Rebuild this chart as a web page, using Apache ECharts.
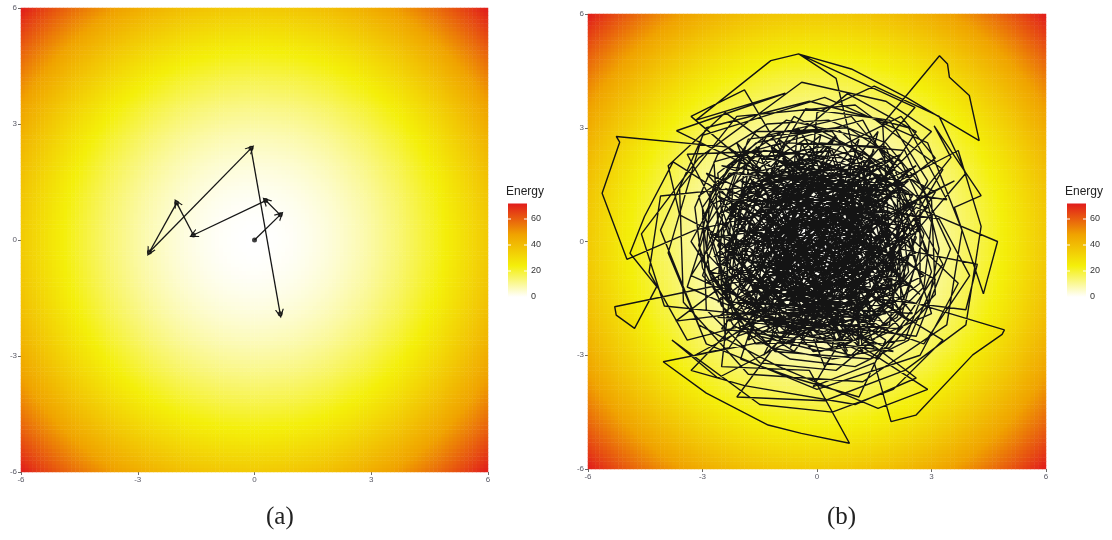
<!DOCTYPE html>
<html lang="en">
<head>
    <meta charset="UTF-8">
    <title>Energy</title>
    <script src="https://cdn.jsdelivr.net/npm/echarts@6/dist/echarts.min.js"></script>
    <style>
        body { margin: 0; background: #fff; }
    </style>
</head>
<body>
<div id="main" style="width: 1112px; height: 540px;"></div>
<script>
    // ---- data ----
    var axisTicks = [-6, -3, 0, 3, 6];
    var legendTicks = [0, 20, 40, 60];
    var energyMax = 72;
    var cellsPerSide = 120;

    // energy surface that is shaded in both panels: U(x, y) = x^2 + y^2
    function energyAt(x, y) { return x * x + y * y; }

    // panel (a): short path with arrows
    var pathA = [[0, 0], [0.66, 0.65], [0.29, 1.02], [-1.57, 0.13], [-2.0, 0.96],
        [-2.7, -0.31], [-0.09, 2.37], [0.66, -1.91]];

    // panel (b): long path
    var walkB = [
        [0, 0], [0.9, 1.1], [1.7, -0.3], [0.6, -1.6], [-0.8, -1.2], [-1.6, 0.4], [-0.4, 1.7], [1.2, 2.1], [2.3, 0.9], [1.8, -1.1],
        [0.4, -2.2], [-1.2, -2.0], [-2.3, -0.8], [-2.1, 1.0], [-0.9, 2.3], [0.7, 2.6], [2.0, 1.7], [2.6, 0.1], [1.9, -1.6], [0.5, -2.6],
        [-0.2, -1.0], [0.3, 0.6], [-1.0, 1.3], [-1.9, -0.2], [-1.1, -1.7], [0.6, -1.9], [1.5, -0.6], [1.3, 1.1], [0.1, 1.9], [-1.4, 1.5],
        [-2.5, 0.3], [-2.6, -1.3], [-1.5, -2.5], [0.1, -2.9], [1.6, -2.4], [2.8, -1.2], [3.0, 0.5], [2.2, 2.1], [0.8, 3.0], [-0.9, 2.9],
        [-2.3, 2.0], [-3.0, 0.6], [-2.8, -0.9], [-1.9, -2.1], [-0.5, -2.3], [0.9, -1.2], [1.0, 0.3], [0.0, 1.0], [-1.0, 0.2], [-0.6, -0.8],
        [0.6, 0.3], [-1.4, -1.5], [1.8, -1.7], [0.3, 2.5], [-2.5, -0.6], [1.5, -2.2], [0.0, 1.7], [-1.9, -1.8], [2.5, 1.0], [-0.7, -2.0],
        [1.0, 2.0], [-2.2, 0.4], [1.3, -0.9], [-0.4, 2.6], [-1.3, -2.4], [2.3, -0.5], [-0.2, 0.2], [0.8, -2.4], [-1.7, 1.6], [1.7, 0.0],
        [-0.6, -1.3], [0.4, 2.7], [-2.6, -1.6], [2.0, 1.9], [-0.1, -2.2], [-1.2, 1.9], [2.5, -1.2], [0.1, -0.3], [-2.0, 1.1], [1.1, -2.7],
        [0.9, 1.2], [-1.6, -0.2], [-0.1, 2.4], [1.5, -2.8], [-2.7, 0.1], [1.9, 0.8], [-0.9, -2.5], [0.5, 1.5], [2.2, -1.9], [-1.4, 0.4],
        [0.3, -1.4], [-1.0, 2.7], [2.6, -0.3], [-2.3, -2.1], [0.7, 1.3], [1.4, -1.8], [-0.5, -0.2], [-1.8, 2.2], [2.1, 0.7], [0.0, -2.4],
        [-1.0, -1.0], [-3.3, -3.4], [-1.9, -3.8], [1.0, -4.3], [2.6, -3.6], [0.5, -2.0], [-2.6, -3.6], [-3.8, -2.6], [-1.5, -4.3], [0.4, -4.5],
        [2.0, -3.9], [3.3, -2.6], [1.5, -1.5], [3.9, -1.8], [4.2, -0.6], [2.2, -0.2], [3.9, 1.8], [3.2, 3.3], [1.5, 4.1], [0.0, 3.4],
        [-0.3, 0.2], [1.3, -1.1], [0.2, -2.3], [-1.9, -1.4], [-0.8, 0.4], [0.5, 2.3], [2.5, 1.2], [1.1, -0.6], [-0.6, -2.9], [-2.2, -1.9],
        [-2.9, 0.4], [-1.3, 2.8], [0.9, 3.3], [2.0, 2.0], [0.4, 0.1], [-1.4, -0.9], [-0.2, -1.7], [2.2, -1.1], [2.7, 0.6], [1.0, 1.2],
        [-1.8, 1.9], [-2.2, -0.4], [-0.5, -2.0], [1.4, -2.6], [3.0, -1.9], [2.4, 0.0], [0.7, 0.9], [-0.9, 1.9], [-2.7, 1.0], [-3.4, -1.2],
        [-1.6, -2.0], [0.8, -1.6], [1.8, 0.6], [0.3, 2.0], [-1.2, 0.8], [-0.7, -0.9], [1.0, -2.3], [2.6, -2.5], [3.5, -0.2], [2.3, 2.4],
        [0.1, 2.6], [-2.0, 1.0], [-2.5, -1.0], [-0.8, -2.7], [1.2, -1.3], [1.5, 0.8], [-0.2, 1.2], [-1.6, -0.8], [0.0, -2.6], [2.0, -1.8],
        [1.72, 3.1], [3.21, 4.9], [3.42, 4.68], [3.47, 4.33], [3.99, 3.85], [4.25, 2.66], [2.33, 3.81], [0.9, 4.55], [-0.47, 4.94], [2.57, 3.54], [1.4, 2.2],
        [0.4, -0.4], [1.4, 0.5], [1.1, 1.7], [-0.2, 2.2], [-1.7, 1.8], [-2.4, 0.5], [-2.0, -1.2], [-0.8, -2.4], [0.8, -2.7], [2.1, -2.0],
        [2.6, -0.6], [2.3, 1.0], [1.3, 2.3], [-0.1, 2.9], [-1.6, 2.6], [-2.7, 1.5], [-3.1, -0.1], [-2.5, -1.7], [-1.2, -2.8], [0.4, -3.1],
        [1.9, -2.8], [2.9, -1.7], [3.2, -0.2], [2.8, 1.4], [1.8, 2.6], [0.3, 3.2], [-1.3, 3.1], [-2.6, 2.3], [-3.2, 0.9], [-3.0, -0.7],
        [-2.2, -2.2], [-0.7, -3.1], [1.0, -3.3], [2.4, -2.6], [3.1, -1.0], [1.5, -0.1], [0.2, 0.4], [-0.9, -0.3], [-0.3, -1.5], [1.0, -0.9],
        [-1.9, 4.0], [-3.3, 3.3], [-1.2, 1.5], [-4.1, 1.2], [-4.4, -0.8], [-3.4, -2.6], [-1.1, -2.0], [-4.0, -1.7], [-4.6, 0.2], [-3.1, 2.2],
        [-0.4, 4.2], [1.8, 3.7], [3.0, 2.9], [1.2, 1.1], [3.7, 2.4], [4.3, 0.4], [3.9, -2.2], [2.3, -3.4], [0.2, -4.2], [-2.1, -4.1],
        [1.6, 0.9], [0.6, 1.4], [-0.7, 0.8], [-1.3, -0.6], [-0.1, -1.9], [1.3, -1.6], [2.0, -0.1], [1.5, 1.4], [0.2, 1.3], [-0.5, 0.1],
        [-2.2, -0.1], [1.2, 2.3], [0.6, -1.7], [-1.5, -2.1], [-0.3, 1.1], [2.4, -2.1], [-2.4, 1.4], [0.9, -0.1], [-0.7, -2.8], [1.6, 1.7],
        [-1.9, 0.9], [-0.2, -1.8], [1.8, -0.2], [0.2, 2.1], [-2.0, -1.3], [1.0, -1.5], [-0.8, 1.5], [2.3, 1.5], [-1.1, -0.8], [0.5, -2.3],
        [1.9, 0.4], [0.2, 1.6], [-2.3, 1.8], [-3.3, 0.0], [-2.0, -2.0], [0.3, -2.4], [1.7, -1.0], [0.8, 0.7], [-1.1, 2.2], [-0.3, 3.5],
        [1.9, 3.2], [2.9, 1.6], [1.6, -0.9], [-0.4, -0.7], [-2.1, -1.5], [-1.7, 0.7], [0.1, 1.4], [1.7, 2.2], [2.8, 0.2], [2.2, -2.0],
        [0.5, -3.4], [-1.5, -3.2], [-2.9, -1.8], [-3.0, 0.9], [-1.6, 2.9], [0.4, 2.9], [1.4, 1.5], [0.6, -0.9], [-1.0, -1.5], [-1.9, 0.1],
        [-0.9, 1.1], [0.7, 1.1], [1.5, -0.2], [0.9, -2.1], [-0.8, -1.8], [-2.4, -0.2], [-1.4, 1.6], [0.2, 2.2], [2.1, 1.6], [2.4, -0.8],
        [1.3, -2.4], [-0.9, -2.2], [-2.5, -1.2], [-2.6, 0.7], [-1.0, 1.6], [0.9, 1.8], [2.0, -0.3], [0.4, -1.6], [-1.2, -0.2], [-0.1, 0.9],
        [-2.33, 2.49], [-5.26, 2.77], [-5.17, 2.62], [-5.63, 1.27], [-4.98, -0.47], [-3.2, 0.3],
        [2.4, 1.6], [-1.8, -1.9], [1.2, -2.5], [-0.6, 2.4], [2.1, -1.3], [-2.4, 0.8], [0.9, 2.2], [-0.4, -2.6], [2.6, 0.4], [-2.0, 1.6],
        [1.7, -2.1], [-1.5, -1.2], [0.5, 2.8], [-2.7, -0.4], [1.9, 1.2], [-0.9, -2.7], [2.8, -0.9], [-1.2, 2.5], [0.0, -1.4], [1.1, 2.7],
        [-2.2, -1.6], [2.5, -1.9], [-0.3, 1.6], [-1.8, -2.6], [1.4, -0.8], [-2.6, 1.2], [0.8, -3.0], [-1.0, 1.0], [2.2, 2.3], [-0.7, -1.6],
        [1.8, 0.2], [-2.9, -1.1], [0.6, 1.0], [-1.4, -3.0], [2.9, 0.9], [-1.9, 2.4], [0.3, -2.0], [1.6, 2.9], [-2.5, -2.3], [2.0, -2.9],
        [-0.8, -1.5], [2.9, -3.9], [1.6, -4.4], [-1.0, -3.3], [-3.1, -2.2], [-4.1, 0.3], [-2.9, 3.0], [-0.2, 3.7], [2.4, 3.0], [3.4, 1.1],
        [-2.5, 2.0], [1.3, 0.6], [-0.4, -0.9], [1.9, -2.4], [-1.6, 2.5], [0.2, -1.5], [-2.8, -0.8], [2.0, 2.2], [-0.6, 0.4], [0.8, -2.9],
        [-1.3, 1.7], [1.6, -1.2], [-2.1, -2.5], [0.4, 0.8], [2.7, 0.3], [-1.0, -1.6], [0.1, 2.8], [-2.3, 0.9], [1.4, -2.0], [-0.3, -0.5],
        [3.6, 1.6], [1.2, 0.4], [-1.3, -1.8], [-3.7, -2.1], [-2.0, -0.8], [0.8, 0.2], [2.6, 2.9], [0.8, 3.9], [-1.0, 2.4], [-3.4, 2.3],
        [-2.3, 0.2], [-0.4, -1.1], [1.8, -2.6], [1.1, -4.1], [-0.6, -3.6], [-2.0, -3.1], [-1.3, -1.0], [0.9, 0.9], [3.2, 0.6], [4.0, -0.9],
        [2.8, -2.7], [0.6, -1.9], [-1.7, -0.3], [-3.6, 0.7], [-3.9, 2.0], [-2.4, 3.4], [-0.5, 2.0], [1.6, 1.0], [2.3, -1.6], [0.9, -3.0],
        [-1.6, -2.4], [-2.6, -0.6], [-1.0, 0.7], [0.6, 2.5], [2.2, 3.3], [3.1, 2.2], [1.3, 0.8], [-0.6, -0.4], [-2.3, -2.8], [-3.2, -3.0],
        [0.5, -1.0], [4.91, -2.33], [4.85, -2.45], [4.08, -2.99], [2.59, -4.58], [1.94, -4.75], [1.5, -3.2], [-0.1, -3.83],
        [3.3, 1.9], [1.0, 3.6], [-2.1, 3.3], [-3.6, 1.4], [-3.5, -1.6], [-1.8, -3.5], [1.2, -3.7], [3.4, -2.2], [3.8, 0.3], [2.9, 2.6],
        [0.2, 3.8], [-3.0, 2.8], [-3.9, -0.3], [-2.9, -2.7], [0.0, -3.9], [2.7, -3.0], [3.7, -1.1],
        [1.1, 1.4], [-1.7, -1.4], [2.2, -0.9], [-0.9, 2.2], [0.6, -0.8], [-2.6, -0.4], [1.5, 2.0], [0.0, -2.0], [-1.4, 0.2], [0.8, 0.5],
        [-0.7, 1.3], [0.9, -0.8], [1.6, 1.5], [-0.3, 2.3], [-1.8, 0.5], [-1.1, -1.3], [0.6, -1.1], [1.4, 0.2], [0.5, 1.4], [-1.5, 1.4],
        [-2.1, -0.7], [-0.6, -2.4], [1.6, -1.9], [2.4, 0.5], [1.0, 2.4], [-0.8, 2.0], [-1.9, -0.4], [-0.2, -1.4], [1.9, -0.5], [1.2, 1.9],
        [-0.5, 1.9], [-2.3, 0.6], [-1.5, -1.8], [0.2, -2.0], [1.9, -1.4], [2.1, 0.3], [0.4, 1.0], [-1.3, 0.1], [-0.5, -1.6], [1.1, -1.1],
        [1.0, 0.4], [-0.3, 0.5], [-1.6, -1.2], [-0.1, -2.9], [2.3, -2.6], [3.0, -0.8], [2.4, 1.3], [0.7, 2.2], [-1.4, 2.4], [-2.8, 1.3],
        [-2.9, -0.3], [-1.7, -1.6], [0.0, -1.7], [1.2, -0.4], [0.2, 0.6], [-1.1, -0.6], [0.3, -1.0], [1.6, 0.6], [0.9, 1.4], [-0.4, 0.8],
        [-1.5, 0.9], [1.1, -1.8], [-0.2, 2.0], [-2.3, -0.3], [0.7, -0.6], [2.4, 1.9], [-0.8, -1.0], [1.5, 2.4], [-2.0, -2.4], [0.2, 0.9],
        [2.7, -1.4], [-1.1, 1.8], [-1.6, -1.6], [1.0, 1.5], [0.4, -2.8], [-2.8, 0.2], [1.9, -0.8], [-0.5, 3.0], [-1.0, -2.1], [2.3, 0.2],
        [0.9, -1.4], [-1.9, 1.3], [0.1, -0.6], [1.7, 1.8], [-2.4, -1.1], [0.6, 2.1], [1.2, -2.9], [-2.9, 1.8], [2.1, -0.4], [-0.6, 0.6],
        [-1.2, -2.6], [-4.03, -3.17], [-2.9, -4.0], [-1.28, -4.84], [-0.41, -5.06], [0.85, -5.32], [-0.2, -3.4], [-2.5, -3.3],
        [-1.9, 2.0], [-3.1, 1.2], [-2.0, -2.3], [0.7, -2.6], [2.7, -1.1], [2.7, 1.1], [0.5, 3.0], [-1.8, 2.7], [-3.0, -0.9], [-1.1, -2.9],
        [1.4, -3.1], [3.1, -1.4], [3.0, 1.1], [1.4, 2.7], [-0.8, 3.2], [-2.6, 1.8], [-2.3, -1.3], [-0.3, -2.5], [1.9, -2.2], [2.2, -0.1],
        [0.8, 1.8], [-1.2, 1.1], [-1.5, -0.6], [0.0, -1.1], [1.4, -1.2], [1.1, 1.0], [-0.2, 1.8], [-1.8, 1.4], [-2.0, -0.9], [-0.6, -2.1],
        [1.0, -1.9], [2.0, -0.8], [1.7, 1.2], [0.1, 1.5], [-1.2, 0.2], [-0.9, -1.2], [0.6, -0.5], [0.3, 1.2], [-0.8, 0.0], [0.1, -0.8],
        [0.3, 1.1], [-1.2, 0.5], [-0.4, -1.3], [1.2, -0.2], [0.8, 1.9], [-1.5, 2.2], [-2.6, -0.1], [-1.3, -2.2], [1.1, -2.2], [2.5, -0.2],
        [1.6, 2.0], [-0.3, 2.7], [-2.2, 1.5], [-2.4, -1.5], [-0.1, -2.5], [2.2, -1.5], [2.1, 1.3], [0.0, 0.4], [-1.7, -0.5], [-0.6, 1.4],
        [-3.68, 2.92], [-0.83, 3.91], [-3.17, 3.2], [-1.21, 4.77], [-0.48, 4.95], [0.5, 4.3], [0.9, 2.6],
        [1.4, 1.2], [1.9, -1.2], [0.3, -1.8], [-1.8, -1.1], [-1.4, 1.1], [0.9, 0.8], [0.2, -0.9], [-2.0, 0.3], [-0.8, 2.6], [1.8, 2.5],
        [2.9, -0.3], [1.0, -2.6], [-1.6, -2.7], [-3.0, -0.5], [-2.0, 2.2], [0.4, 2.4], [1.3, 0.0], [-0.2, -0.3], [-1.1, -1.0], [0.5, -1.3],
        [2.6, 0.9], [4.73, 0.0], [4.36, -1.38], [3.6, 0.9], [4.3, 1.21], [3.07, 3.05], [3.51, 2.22], [2.2, 0.6],
        [1.6, -0.4], [0.7, 0.5], [-0.5, 1.0], [-1.6, 0.0], [-0.9, -1.9], [0.9, -2.0], [2.3, -0.9], [2.0, 0.9], [0.8, 1.6], [-0.9, 1.7],
        [-2.5, 0.9], [-1.9, -0.9], [-0.3, -2.1], [1.5, -1.4], [1.7, 0.3], [0.5, 1.8], [-1.3, 1.2], [-1.2, -0.4], [0.1, -1.2], [1.1, -0.5],
        [-2.8, -1.2], [-5.3, -1.72], [-5.26, -1.94], [-4.78, -2.29], [-4.2, -1.19], [-4.9, -0.31], [-4.52, 0.66], [-3.77, 2.1], [-2.2, 1.1],
        [0.9, 1.0], [-0.4, 1.5], [-1.5, 0.6], [-0.6, -0.5], [0.6, -0.1], [-0.1, 0.7], [2.6, 2.0], [-2.6, -2.0], [2.2, -2.3], [-2.1, 2.6],
        [0.2, -3.3], [3.1, 1.3], [-0.6, 3.3], [-3.3, -0.9], [1.6, -3.1], [3.3, -0.6], [1.2, 3.2], [-2.7, 2.1], [-2.4, -2.6], [0.9, -0.3],
        [-0.8, 0.3], [0.4, 1.6], [1.8, -1.9], [-1.0, -2.4], [-2.2, 0.0], [-1.0, 2.1], [1.2, 1.6], [2.1, -0.6], [0.7, -1.5], [-0.7, -1.2]
    ];

    var heatColors = ['#ffffff', '#f4ef0a', '#f0a300', '#e11b1c'];

    // ---- layout ----
    var panels = [
        {left: 21, top: 8, width: 467, height: 464, legendX: 508, caption: '(a)', captionX: 280},
        {left: 588, top: 14, width: 458, height: 455, legendX: 1067, caption: '(b)', captionX: 841}
    ];

    // grid of cell centres for the heatmap
    var cellIdx = [];
    for (var i = 0; i < cellsPerSide; i++) cellIdx.push(i);
    function cellCentre(i) { return -6 + (i + 0.5) * 12 / cellsPerSide; }
    var heatData = [];
    for (var a = 0; a < cellsPerSide; a++) {
        for (var b = 0; b < cellsPerSide; b++) {
            heatData.push([a, b, energyAt(cellCentre(a), cellCentre(b))]);
        }
    }

    var arrowSegs = [];
    for (var k = 1; k < pathA.length; k++) {
        arrowSegs.push({coords: [pathA[k - 1], pathA[k]]});
    }

    var grids = [], xAxes = [], yAxes = [];
    panels.forEach(function (p) {
        // heat grid (category) and path grid (value) at the same place
        for (var g = 0; g < 2; g++) {
            grids.push({left: p.left, top: p.top, width: p.width, height: p.height});
        }
        xAxes.push({type: 'category', gridIndex: grids.length - 2, data: cellIdx, show: false});
        yAxes.push({type: 'category', gridIndex: grids.length - 2, data: cellIdx, show: false});
        var valueAxis = {
            type: 'value', min: axisTicks[0], max: axisTicks[axisTicks.length - 1], interval: 3,
            axisLine: {show: false, onZero: false},
            axisTick: {show: true, length: 3, lineStyle: {color: '#444', width: 0.8}},
            axisLabel: {fontSize: 8, color: '#5a5a66', margin: 4, fontFamily: 'Liberation Sans'},
            splitLine: {show: false}
        };
        xAxes.push(Object.assign({gridIndex: grids.length - 1, position: 'bottom'}, valueAxis));
        yAxes.push(Object.assign({gridIndex: grids.length - 1, position: 'left'}, valueAxis));
    });

    // ---- colour bar legends ----
    var pxPerUnit = 1.3, zeroY = 297, barW = 19;
    var graphics = [];
    panels.forEach(function (p) {
        var y0 = zeroY;
        var yTop = y0 - energyMax * pxPerUnit;
        graphics.push({
            type: 'text', left: p.legendX - 2, top: yTop - 18,
            style: {text: 'Energy', fontSize: 12, fill: '#222', fontFamily: 'Liberation Sans'}
        });
        graphics.push({
            type: 'rect', shape: {x: p.legendX, y: yTop, width: barW, height: energyMax * pxPerUnit},
            style: {
                fill: new echarts.graphic.LinearGradient(0, 0, 0, 1, [
                    {offset: 0, color: heatColors[3]},
                    {offset: 1 / 3, color: heatColors[2]},
                    {offset: 2 / 3, color: heatColors[1]},
                    {offset: 1, color: heatColors[0]}
                ])
            }
        });
        legendTicks.forEach(function (t) {
            var ty = y0 - t * pxPerUnit;
            if (t > 0) {
                graphics.push({type: 'line', shape: {x1: p.legendX, y1: ty, x2: p.legendX + 3, y2: ty},
                    style: {stroke: '#fff', lineWidth: 1}});
                graphics.push({type: 'line', shape: {x1: p.legendX + barW - 3, y1: ty, x2: p.legendX + barW, y2: ty},
                    style: {stroke: '#fff', lineWidth: 1}});
            }
            graphics.push({
                type: 'text', left: p.legendX + barW + 4, top: ty - 5,
                style: {text: String(t), fontSize: 9, fill: '#333', fontFamily: 'Liberation Sans'}
            });
        });
        graphics.push({
            type: 'text', left: p.captionX - 14, top: 505,
            style: {text: p.caption, fontSize: 25, fill: '#222', fontFamily: 'Liberation Serif'}
        });
    });

    var myChart = echarts.init(document.getElementById('main'));
    var option = {
        animation: false,
        backgroundColor: '#fff',
        grid: grids,
        xAxis: xAxes,
        yAxis: yAxes,
        visualMap: {
            show: false, type: 'continuous', min: 0, max: energyMax,
            seriesIndex: [0, 3],
            inRange: {color: heatColors}
        },
        graphic: graphics,
        series: [
            {
                type: 'heatmap', xAxisIndex: 0, yAxisIndex: 0,
                data: heatData, progressive: 0, itemStyle: {borderWidth: 0}
            },
            {
                type: 'lines', coordinateSystem: 'cartesian2d', xAxisIndex: 1, yAxisIndex: 1,
                data: arrowSegs,
                symbol: ['none', 'path://M5,0 L10,10 L8.6,10 L5,2.8 L1.4,10 L0,10 Z'],
                symbolSize: [8, 9],
                lineStyle: {color: '#161616', width: 1.3, opacity: 1}
            },
            {
                type: 'scatter', xAxisIndex: 1, yAxisIndex: 1,
                data: pathA, symbolSize: 5, itemStyle: {color: '#111'}
            },
            {
                type: 'heatmap', xAxisIndex: 2, yAxisIndex: 2,
                data: heatData, progressive: 0, itemStyle: {borderWidth: 0}
            },
            {
                type: 'line', xAxisIndex: 3, yAxisIndex: 3,
                data: walkB, showSymbol: false, smooth: false,
                lineStyle: {color: '#141414', width: 1.4}
            }
        ]
    };
    myChart.setOption(option);
</script>
</body>
</html>
